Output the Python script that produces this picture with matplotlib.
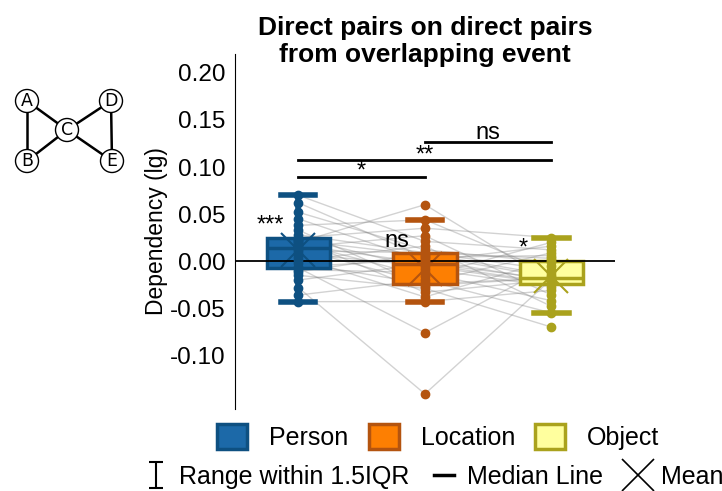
import numpy as np
import matplotlib
matplotlib.use('Agg')
import matplotlib.pyplot as plt
from matplotlib.patches import Patch, Circle
from matplotlib.lines import Line2D
from matplotlib.path import Path

plt.rcParams['font.family'] = ['Liberation Sans', 'DejaVu Sans']
plt.rcParams['axes.unicode_minus'] = False

# 分组名称
groups = ['Person', 'Location', 'Object']
# 每个被试在三种条件下的依赖度 (按被试顺序)
person = [-0.043, -0.036, -0.028, -0.020, -0.015, -0.011, -0.009, -0.007, -0.006, -0.002,
          0.001, 0.004, 0.008, 0.011, 0.013, 0.015, 0.017, 0.019, 0.020, 0.022,
          0.023, 0.025, 0.025, 0.028, 0.033, 0.038, 0.045, 0.052, 0.062, 0.070]
location = [-0.043, -0.020, -0.141, -0.003, -0.029, 0.008, -0.012, -0.076, 0.002, -0.024,
            0.016, -0.038, -0.005, 0.009, -0.023, 0.027, -0.002, -0.016, 0.060, 0.006,
            -0.033, 0.035, -0.008, 0.009, -0.026, 0.044, 0.000, 0.012, 0.004, 0.021]
obj = [-0.031, -0.055, -0.019, -0.023, -0.070, -0.015, -0.042, -0.005, -0.021, -0.018,
       -0.048, 0.001, -0.024, -0.009, 0.009, -0.036, -0.019, 0.020, -0.022, -0.017,
       -0.020, 0.025, -0.027, 0.003, -0.018, -0.012, 0.016, -0.001, 0.006, 0.012]
# 与0比较的显著性
group_sig = ['***', 'ns', '*']
# 组间比较 (组1, 组2, 高度, 标记)
pair_sig = [(0, 1, 0.089, '*'), (0, 2, 0.107, '**'), (1, 2, 0.127, 'ns')]
yticks = [0.20, 0.15, 0.10, 0.05, 0.00, -0.05, -0.10]

face_colors = ['#1c69a8', '#fd7f02', '#ffff9e']
edge_colors = ['#0e5081', '#b4540f', '#aaa21d']

# 网络示意图节点
nodes = {'A': (27, 101), 'B': (27, 161), 'C': (67, 130), 'D': (111, 101), 'E': (112, 161)}
edges = [('A', 'B'), ('A', 'C'), ('B', 'C'), ('C', 'D'), ('C', 'E'), ('D', 'E')]

data = [person, location, obj]
pos = np.arange(len(groups))

fig = plt.figure(figsize=(7.22, 4.91), dpi=100)
ax = fig.add_axes([0.3255, 0.167, 0.526, 0.723])

# 被试连线
for i in range(len(person)):
    ax.plot(pos, [person[i], location[i], obj[i]], color='gray', alpha=0.35, lw=1, zorder=1)

bp = ax.boxplot(data, positions=pos, widths=0.5, patch_artist=True, showmeans=True,
                showfliers=False, capwidths=0.27, zorder=2)
for k in range(len(groups)):
    c = edge_colors[k]
    bp['boxes'][k].set(facecolor=face_colors[k], edgecolor=c, linewidth=2.5)
    bp['medians'][k].set(color=c, linewidth=2.5)
    bp['means'][k].set(marker='x', markersize=24, markeredgecolor=c, markeredgewidth=1.5)
    for w in bp['whiskers'][2 * k:2 * k + 2]:
        w.set(color=c, linewidth=4)
    for cap in bp['caps'][2 * k:2 * k + 2]:
        cap.set(color=c, linewidth=4)
    ax.scatter(np.full(len(data[k]), pos[k]), data[k], s=36, color=c, zorder=3)
    ax.text(pos[k] - 0.22, np.percentile(data[k], 75) + 0.001, group_sig[k],
            ha='center', va='bottom', fontsize=17)

ax.axhline(0, color='black', lw=1.3, zorder=2.5)

# 组间显著性 (星号字形偏高, 往下挪一点)
for a, b, h, s in pair_sig:
    ax.plot([pos[a], pos[b]], [h, h], color='black', lw=2)
    dy = 0.006 if s.startswith('*') else 0.003
    ax.text((pos[a] + pos[b]) / 2, h - dy, s, ha='center', va='bottom', fontsize=17)

ax.set_xlim(-0.5, 2.5)
ax.set_ylim(-0.157, 0.220)
ax.set_yticks(yticks)
ax.set_yticklabels(['%.2f' % t for t in yticks])
ax.tick_params(axis='y', length=0, pad=7, labelsize=17.5)
ax.set_xticks([])
for s in ['top', 'right', 'bottom']:
    ax.spines[s].set_visible(False)
ax.set_ylabel('Dependency (lg)', fontsize=16.5, labelpad=1)
fig.text(0.589, 0.967, 'Direct pairs on direct pairs\nfrom overlapping event', fontsize=19,
         fontweight='bold', ha='center', va='top', linespacing=1.15)

# 图例
handles = [Patch(facecolor=face_colors[k], edgecolor=edge_colors[k], lw=2.5) for k in range(3)]
fig.legend(handles, groups, loc='center', bbox_to_anchor=(0.607, 0.11), ncol=3,
           frameon=False, fontsize=18, handlelength=1.2, handleheight=1.2,
           handletextpad=0.88, columnspacing=0.8, borderpad=0)

ibeam = Path([(-0.5, 1), (0.5, 1), (0, 1), (0, -1), (-0.5, -1), (0.5, -1)],
             [Path.MOVETO, Path.LINETO, Path.MOVETO, Path.LINETO, Path.MOVETO, Path.LINETO])
handles2 = [Line2D([], [], marker=ibeam, markersize=19, color='black', lw=0, markeredgewidth=1.5),
            Line2D([], [], color='black', lw=2.5),
            Line2D([], [], marker='x', markersize=23, color='black', lw=0, markeredgewidth=1.2)]
fig.legend(handles2, ['Range within 1.5IQR', 'Median Line', 'Mean'], loc='center left',
           bbox_to_anchor=(0.185, 0.0285), ncol=3, frameon=False, fontsize=18,
           handlelength=0.8, handletextpad=0.52, columnspacing=1.0, borderpad=0)

# 网络示意图
axn = fig.add_axes([0.0, 0.6, 0.2, 0.3])
axn.set_xlim(0, 722 * 0.2)
axn.set_ylim(491 * 0.4, 491 * 0.1)
axn.axis('off')
for u, v in edges:
    axn.plot([nodes[u][0], nodes[v][0]], [nodes[u][1], nodes[v][1]], color='black', lw=1.8, zorder=1)
for name, (x, y) in nodes.items():
    axn.add_patch(Circle((x, y), 11.5, facecolor='white', edgecolor='black', lw=1, zorder=2))
    axn.text(x, y, name, ha='center', va='center', fontsize=12.5, family='DejaVu Sans', zorder=3)

fig.savefig('out.png', dpi=100)
